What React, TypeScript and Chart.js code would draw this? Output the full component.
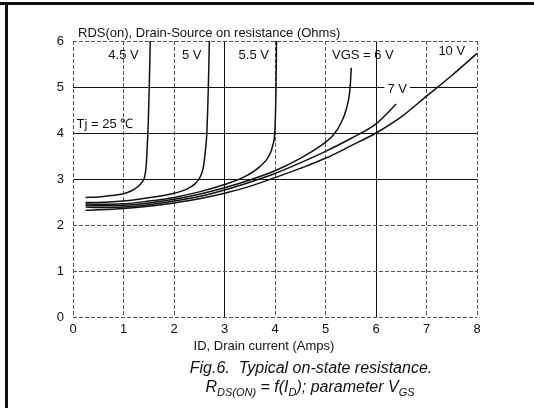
import React, { useEffect, useRef } from "react";
import { Chart, registerables } from "chart.js";

Chart.register(...registerables);

const xTicks = [0, 1, 2, 3, 4, 5, 6, 7, 8];
const yTicks = [0, 1, 2, 3, 4, 5, 6];

const vgs45: [number, number][] = [[0.25,2.6],[0.5,2.61],[0.75,2.64],[1,2.68],[1.15,2.74],[1.27,2.82],[1.36,2.92],[1.42,3.05],[1.45,3.3],[1.47,3.7],[1.49,4.2],[1.51,5.0],[1.53,6.0]];
const vgs5: [number, number][] = [[0.25,2.49],[0.5,2.49],[1,2.52],[1.5,2.59],[2,2.69],[2.25,2.78],[2.42,2.9],[2.52,3.05],[2.58,3.25],[2.62,3.6],[2.65,4.0],[2.68,5.0],[2.7,6.0]];
const vgs55: [number, number][] = [[0.25,2.46],[0.5,2.45],[1,2.46],[1.5,2.52],[2,2.6],[2.5,2.72],[3,2.88],[3.4,3.05],[3.7,3.27],[3.88,3.5],[3.96,3.75],[4.0,4.1],[4.02,5.0],[4.03,6.0]];
const vgs6: [number, number][] = [[0.25,2.43],[0.5,2.42],[1,2.43],[1.5,2.48],[2,2.56],[2.5,2.67],[3,2.81],[3.5,2.98],[4,3.18],[4.5,3.45],[4.9,3.72],[5.15,3.95],[5.3,4.2],[5.42,4.55],[5.48,4.9],[5.5,5.2],[5.51,5.42]];
const vgs7: [number, number][] = [[0.25,2.39],[0.5,2.38],[1,2.39],[1.5,2.44],[2,2.52],[2.5,2.62],[3,2.76],[3.5,2.93],[4,3.12],[4.5,3.35],[5,3.6],[5.5,3.88],[6,4.2],[6.4,4.63]];
const vgs10: [number, number][] = [[0.25,2.32],[0.5,2.33],[1,2.36],[1.5,2.41],[2,2.48],[2.5,2.57],[3,2.69],[3.5,2.84],[4,3.03],[4.5,3.23],[5,3.45],[5.5,3.72],[6,4.0],[6.5,4.35],[7,4.8],[7.5,5.25],[8,5.73]];

const seriesNames = ["4.5 V", "5 V", "5.5 V", "6 V", "7 V", "10 V"];
const seriesData = [vgs45, vgs5, vgs55, vgs6, vgs7, vgs10];

// in-plot labels: text, x, y (data units)
const labelTexts = ["4.5 V", "5 V", "5.5 V", "VGS = 6 V", "10 V", "7 V"];
const labelX = [1.0, 2.35, 3.58, 5.74, 7.5, 6.42];
const labelY = [5.69, 5.69, 5.69, 5.69, 5.78, 4.95];

const yTitle = "RDS(on), Drain-Source on resistance (Ohms)";
const xTitle = "ID, Drain current (Amps)";
const tjText = "Tj = 25 ℃";
const caption1 = "Fig.6.  Typical on-state resistance.";

const solidX = [3, 6];
const solidY = [3, 4, 5];

const FONT = "'Liberation Sans', Arial, sans-serif";

export default function App() {
  const ref = useRef<HTMLCanvasElement | null>(null);
  useEffect(() => {
    const canvas = ref.current!;
    const deco = {
      id: "deco",
      beforeDraw(chart: any) {
        const c = chart.ctx;
        c.save();
        c.fillStyle = "#fff";
        c.fillRect(0, 0, chart.width, chart.height);
        c.restore();
      },
      afterDraw(chart: any) {
        const c = chart.ctx;
        const xs = chart.scales.x;
        const ys = chart.scales.y;
        c.save();
        // frame
        c.fillStyle = "#111";
        c.fillRect(0, 2, chart.width, 3);
        c.fillRect(5, 2, 3, chart.height);
        c.fillStyle = "#111";
        c.textBaseline = "middle";
        c.font = `13px ${FONT}`;
        c.textAlign = "left";
        c.fillText(yTitle, 78, 33);
        c.textAlign = "center";
        c.fillText(xTitle, 264, 346);
        // in-plot labels
        for (let i = 0; i < labelTexts.length; i++) {
          const px = xs.getPixelForValue(labelX[i]);
          const py = ys.getPixelForValue(labelY[i]);
          const w = c.measureText(labelTexts[i]).width;
          if (labelTexts[i] === "7 V") {
            c.fillStyle = "#fff";
            c.fillRect(px - w / 2 - 3, py - 7, w + 6, 14);
            c.fillStyle = "#111";
          }
          c.fillText(labelTexts[i], px, py);
        }
        c.textAlign = "left";
        c.fillText(tjText, xs.getPixelForValue(0.07), ys.getPixelForValue(4.19));
        // caption
        c.font = `italic 16px ${FONT}`;
        c.textAlign = "center";
        c.fillText(caption1, 311, 369);
        const parts: [string, boolean][] = [["R", false], ["DS(ON)", true], [" = f(I", false], ["D", true], ["); parameter V", false], ["GS", true]];
        const big = `italic 16px ${FONT}`;
        const small = `italic 11px ${FONT}`;
        let total = 0;
        for (const [t, s] of parts) {
          c.font = s ? small : big;
          total += c.measureText(t).width;
        }
        let x = 310 - total / 2;
        c.textAlign = "left";
        for (const [t, s] of parts) {
          c.font = s ? small : big;
          c.fillText(t, x, s ? 393 : 388);
          x += c.measureText(t).width;
        }
        c.restore();
      },
    };
    const chart = new Chart(canvas, {
      type: "scatter",
      data: {
        datasets: seriesData.map((d, i) => ({
          label: seriesNames[i],
          data: d.map(([x, y]) => ({ x, y })),
          showLine: true,
          borderColor: "#111",
          borderWidth: 1.5,
          pointRadius: 0,
          cubicInterpolationMode: "monotone" as const,
        })),
      },
      options: {
        animation: false,
        responsive: false,
        events: [],
        layout: { padding: { left: 0, right: 57, top: 41, bottom: 0 } },
        plugins: { legend: { display: false }, tooltip: { enabled: false }, title: { display: false } },
        scales: {
          x: {
            type: "linear",
            min: 0,
            max: 8,
            afterFit: (s: any) => { s.height = 91; },
            afterBuildTicks: (s: any) => { s.ticks = xTicks.map((v) => ({ value: v })); },
            ticks: { color: "#111", padding: 5, font: { family: FONT, size: 13 } },
            grid: {
              drawTicks: false,
              color: (ctx: any) => (solidX.includes(ctx.tick?.value) ? "#111" : "#555"),
              lineWidth: 1,
            },
            border: {
              display: false,
              dash: (ctx: any) => (solidX.includes(ctx.tick?.value) ? [] : [4, 2]),
            },
          },
          y: {
            type: "linear",
            min: 0,
            max: 6,
            afterFit: (s: any) => { s.width = 73; },
            afterBuildTicks: (s: any) => { s.ticks = yTicks.map((v) => ({ value: v })); },
            ticks: { color: "#111", padding: 9, font: { family: FONT, size: 13 } },
            grid: {
              drawTicks: false,
              color: (ctx: any) => (solidY.includes(ctx.tick?.value) ? "#111" : "#555"),
              lineWidth: 1,
            },
            border: {
              display: false,
              dash: (ctx: any) => (solidY.includes(ctx.tick?.value) ? [] : [4, 2]),
            },
          },
        },
      },
      plugins: [deco],
    } as any);
    return () => chart.destroy();
  }, []);
  return (
    <div style={{ position: "absolute", left: 0, top: 0, width: 534, height: 408 }}>
      <canvas ref={ref} width={534} height={408} style={{ width: 534, height: 408, display: "block" }} />
    </div>
  );
}
